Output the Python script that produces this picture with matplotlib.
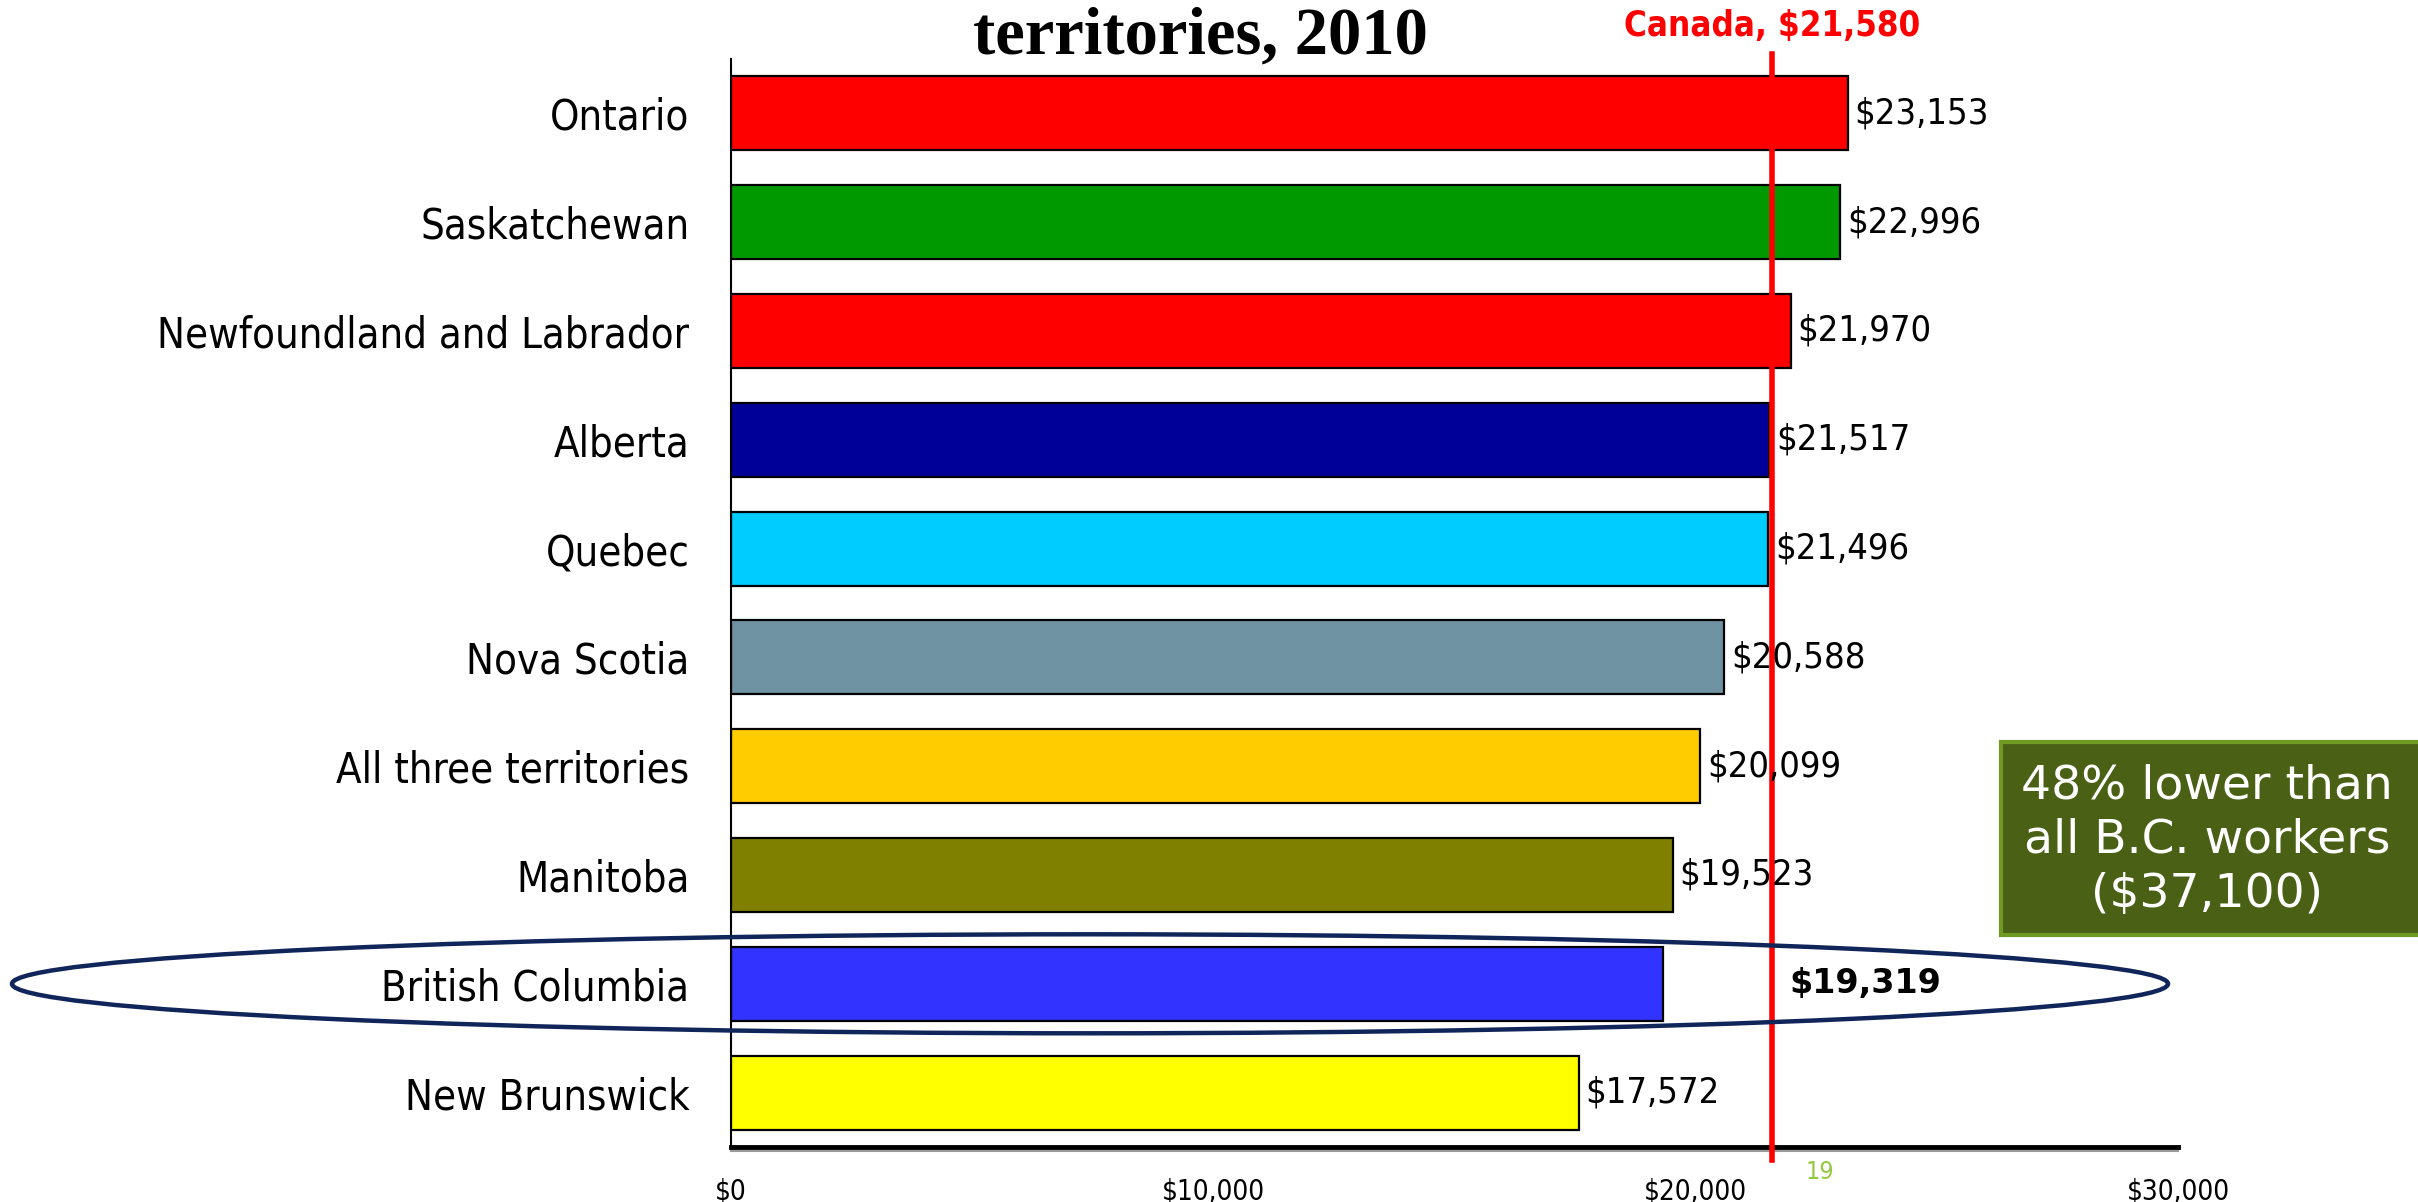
import matplotlib
matplotlib.use("Agg")
import matplotlib.pyplot as plt
from matplotlib.patches import Ellipse, Rectangle

categories = ["Ontario", "Saskatchewan", "Newfoundland and Labrador", "Alberta",
              "Quebec", "Nova Scotia", "All three territories", "Manitoba",
              "British Columbia", "New Brunswick"]
values = [23153, 22996, 21970, 21517, 21496, 20588, 20099, 19523, 19319, 17572]
colors = ["#ff0000", "#009900", "#ff0000", "#000099", "#00ccff", "#7093a3",
          "#ffcc00", "#808000", "#3333ff", "#ffff00"]
canada_avg = 21580
canada_label = "Canada, $21,580"
xticks = [0, 10000, 20000, 30000]
xtick_labels = ["$0", "$10,000", "$20,000", "$30,000"]
title_text = "territories, 2010"
box_text = "48% lower than\nall B.C. workers\n($37,100)"
highlight = "British Columbia"
bc_label_x = 21950
page_number = "19"

COND = dict(family="DejaVu Sans", fontstretch="condensed")

W, H = 2418, 1202
fig = plt.figure(figsize=(W / 100, H / 100), dpi=100)
fig.patch.set_facecolor("white")

ax = fig.add_axes([731 / W, 1 - 1147 / H, (2178 - 731) / W, (1147 - 59) / H])
y = list(range(len(categories)))
ax.barh(y, values, height=0.68, color=colors, edgecolor="black", linewidth=1.6, zorder=2)
ax.set_ylim(len(categories) - 0.5, -0.5)
ax.set_xlim(0, 30000)

ax.set_yticks(y)
ax.set_yticklabels(categories, fontsize=30, **COND)
ax.set_xticks(xticks)
ax.set_xticklabels(xtick_labels, fontsize=20, **COND)
ax.tick_params(axis="y", length=0, pad=30)
ax.tick_params(axis="x", length=0, pad=22)

for s in ["top", "right"]:
    ax.spines[s].set_visible(False)
ax.spines["left"].set_linewidth(1.5)
ax.spines["bottom"].set_linewidth(3.5)
ax.spines["bottom"].set_zorder(3)
# faint shadow under the baseline
ax.plot([0, 1], [-0.004, -0.004], transform=ax.transAxes, color="#9a9a9a", lw=1.5,
        clip_on=False, zorder=2)

# value labels
for i, (cat, v) in enumerate(zip(categories, values)):
    lab = "${:,}".format(v)
    if cat == highlight:
        ax.text(bc_label_x, i, lab, ha="left", va="center", fontsize=24,
                fontweight="bold", family="DejaVu Sans", zorder=5)
    else:
        ax.annotate(lab, (v, i), xytext=(5, 0), textcoords="offset points",
                    ha="left", va="center", fontsize=26, zorder=5, **COND)

# Canada line
ax.axvline(canada_avg, ymin=-0.012, ymax=1.005, color="#ff0000", lw=4, clip_on=False, zorder=4)
ax.text(canada_avg, 1.0 + 33 / 1088, canada_label, transform=ax.get_xaxis_transform(),
        ha="center", va="center", color="#ff0000", fontsize=25, fontweight="bold", **COND)

# ellipse around highlight
bi = categories.index(highlight)
ell = Ellipse((7443, bi), width=44700, height=0.91, fill=False, edgecolor="#10255a",
              lw=3.2, clip_on=False, zorder=6)
ax.add_patch(ell)

# title (last line visible)
fig.text(1200 / W, 1 - 54 / H, title_text, ha="center", va="baseline", fontsize=48,
         fontweight="bold", family="Liberation Serif")

# green annotation box
fig.patches.append(Rectangle((2001 / W, 1 - 935 / H), (2440 - 2001) / W, (935 - 742) / H,
                             transform=fig.transFigure, facecolor="#4a6115",
                             edgecolor="#6f9a22", lw=3))
fig.text(2207 / W, 1 - 840 / H, box_text, ha="center", va="center", color="white",
         fontsize=34, family="DejaVu Sans", linespacing=1.27)

# page number
fig.text(1820 / W, 1 - 1172 / H, page_number, ha="center", va="center", color="#92c83e",
         fontsize=18, **COND)

fig.savefig("out.png", dpi=100, facecolor="white")
